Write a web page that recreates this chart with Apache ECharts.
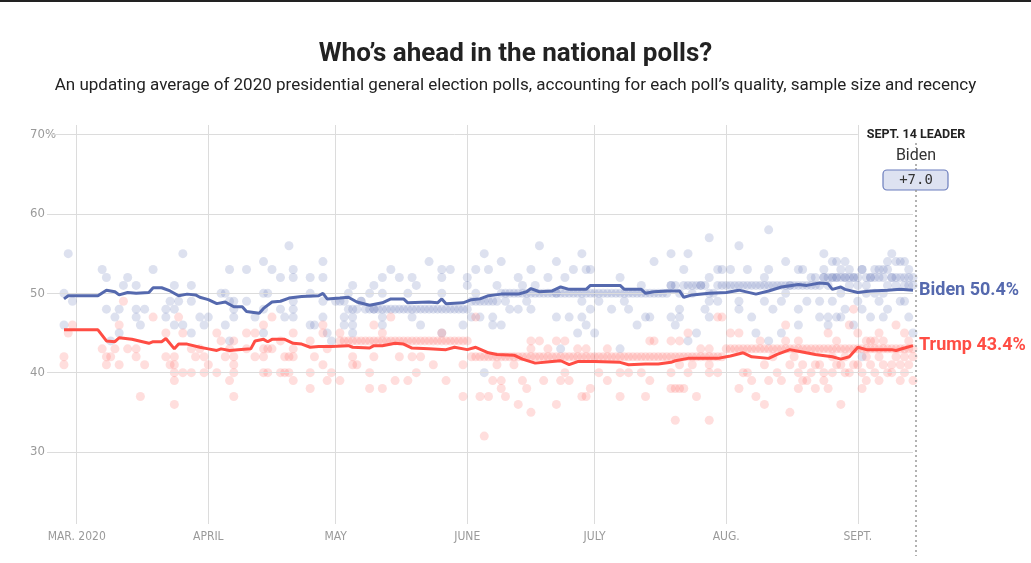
<!DOCTYPE html>
<html>
<head>
<meta charset="utf-8">
<title>Who's ahead in the national polls?</title>
<script src="https://cdn.jsdelivr.net/npm/echarts@6/dist/echarts.min.js"></script>
<style>
  html, body { margin: 0; padding: 0; background: #fff; }
  #main { width: 1031px; height: 563px; }
</style>
</head>
<body>
<div id="main"></div>
<script>
// all x values are days after 1 March 2020
const firstDay = -7;   // Feb 23
const lastDay = 197;   // Sept 14

const monthLabels = {
  '2020-03-01': 'MAR. 2020',
  '2020-04-01': 'APRIL',
  '2020-05-01': 'MAY',
  '2020-06-01': 'JUNE',
  '2020-07-01': 'JULY',
  '2020-08-01': 'AUG.',
  '2020-09-01': 'SEPT.'
};

const yTicks = [30, 40, 50, 60, 70];

// polling averages [day, %]
const bidenAvg = [
  [-3, 49.3], [-2, 49.7], [5, 49.7], [7, 50.4], [9, 50.2], [10, 49.8], [12, 50.1], [14, 50.0],
  [17, 50.1], [18, 50.7], [20, 50.7], [22, 50.3], [24, 49.7], [26, 49.9], [28, 49.8], [29, 49.5],
  [31, 49.2], [33, 48.7], [35, 48.9], [37, 48.3], [39, 48.3], [40, 47.7], [43, 47.5], [44, 48.1],
  [46, 48.9], [48, 49.0], [50, 49.4], [53, 49.6], [57, 49.7], [58, 50.0], [59, 49.3], [62, 49.4],
  [64, 49.5], [66, 48.9], [69, 48.5], [72, 48.8], [74, 49.3], [77, 49.3], [78, 48.8], [83, 48.9],
  [85, 48.8], [86, 49.3], [87, 48.7], [91, 48.8], [93, 49.2], [95, 49.3], [97, 49.7], [100, 49.9],
  [104, 49.9], [106, 50.2], [107, 50.6], [109, 50.2], [112, 50.3], [114, 50.8], [116, 50.5], [120, 50.5],
  [121, 51.0], [125, 51.0], [128, 51.0], [129, 50.5], [133, 50.5], [134, 50.0], [136, 50.2], [139, 50.3],
  [141, 50.3], [142, 50.3], [143, 49.5], [145, 49.8], [149, 50.0], [153, 50.1], [156, 50.4], [160, 49.9],
  [163, 50.3], [166, 50.8], [170, 51.1], [172, 51.0], [175, 51.3], [177, 51.2], [178, 50.5], [180, 50.8],
  [181, 50.5], [184, 50.1], [187, 50.3], [191, 50.4], [194, 50.5], [197, 50.4]
];

const trumpAvg = [
  [-3, 45.4], [5, 45.4], [7, 44.0], [9, 43.9], [10, 44.4], [13, 44.2], [17, 43.7], [18, 43.9],
  [20, 43.9], [21, 44.3], [23, 43.0], [24, 43.6], [26, 43.6], [29, 43.2], [31, 43.0], [33, 42.8],
  [34, 43.0], [36, 42.8], [38, 42.9], [41, 43.0], [42, 44.0], [44, 44.2], [45, 43.9], [46, 44.2],
  [49, 44.2], [51, 43.7], [53, 43.6], [55, 43.2], [57, 43.3], [60, 43.3], [64, 43.4], [65, 43.2],
  [69, 43.1], [70, 43.4], [72, 43.4], [75, 43.7], [77, 43.6], [79, 43.1], [83, 43.0], [87, 42.9],
  [89, 43.2], [92, 42.9], [94, 43.2], [97, 42.5], [99, 42.3], [103, 42.2], [105, 41.7], [108, 41.2],
  [112, 41.4], [114, 41.5], [116, 41.0], [118, 41.4], [122, 41.4], [128, 41.3], [130, 41.0], [134, 41.1],
  [137, 41.1], [140, 41.3], [141, 41.5], [144, 41.8], [151, 41.8], [154, 42.1], [157, 42.5], [159, 42.0],
  [163, 41.8], [165, 42.3], [168, 42.9], [170, 42.7], [174, 42.3], [178, 42.0], [180, 41.7], [182, 42.0],
  [184, 43.2], [186, 42.9], [192, 42.9], [193, 42.8], [195, 43.1], [197, 43.4]
];

// individual polls [day, %]
const bidenPolls = [
  [-3, 50], [-3, 46], [-2, 55], [-1, 49], [6, 53], [7, 52], [7, 48], [8, 44], [9, 47], [10, 48], [10, 45],
  [11, 51], [12, 52], [14, 51], [14, 48], [14, 47], [15, 46], [16, 48], [18, 53], [21, 48], [21, 47], [22, 49],
  [23, 51], [23, 48], [23, 46], [24, 49], [25, 55], [25, 46], [27, 51], [27, 49], [27, 45], [29, 47], [30, 46],
  [31, 47], [34, 50], [35, 50], [35, 46], [36, 53], [36, 49], [36, 44], [37, 49], [37, 48], [37, 47], [40, 53],
  [40, 49], [42, 47], [44, 54], [44, 50], [44, 48], [44, 45], [45, 50], [46, 53], [48, 52], [48, 48], [49, 47],
  [50, 56], [51, 53], [51, 52], [51, 49], [51, 48], [51, 47], [55, 52], [55, 50], [55, 46], [56, 46], [58, 54],
  [58, 52], [58, 49], [58, 47], [59, 45], [60, 44], [61, 49], [63, 47], [63, 46], [64, 50], [65, 51], [65, 47],
  [65, 46], [65, 45], [67, 49], [69, 50], [70, 51], [70, 48], [72, 52], [72, 50], [72, 47], [72, 46], [74, 53],
  [76, 52], [78, 50], [79, 52], [79, 47], [80, 51], [81, 46], [83, 54], [86, 53], [86, 52], [86, 50], [86, 45],
  [88, 53], [91, 46], [92, 52], [92, 51], [93, 47], [94, 53], [94, 50], [95, 47], [96, 55], [96, 40], [97, 53],
  [98, 47], [98, 46], [99, 51], [100, 54], [100, 46], [101, 49], [102, 48], [104, 52], [104, 48], [105, 51],
  [106, 49], [107, 53], [107, 48], [108, 51], [109, 56], [111, 52], [113, 54], [113, 50], [113, 47], [114, 43],
  [115, 52], [116, 47], [117, 53], [118, 45], [119, 55], [119, 49], [119, 47], [120, 53], [120, 46], [121, 53],
  [121, 48], [122, 45], [123, 49], [126, 48], [128, 52], [128, 43], [129, 49], [130, 48], [132, 46], [133, 51],
  [134, 47], [135, 47], [136, 54], [140, 55], [144, 55], [143, 53], [140, 51], [145, 51], [147, 51], [149, 52],
  [149, 57], [151, 53], [149, 49], [151, 49], [142, 48], [140, 47], [142, 47], [141, 46], [144, 44], [146, 45],
  [148, 48], [149, 47], [152, 53], [154, 53], [156, 56], [156, 49], [156, 48], [158, 53], [159, 47], [160, 45],
  [162, 52], [162, 49], [163, 58], [163, 53], [163, 44], [164, 48], [166, 45], [166, 49], [167, 54], [167, 50],
  [168, 51], [170, 53], [170, 48], [170, 46], [172, 49], [173, 52], [175, 49], [175, 47], [176, 55], [176, 53],
  [177, 47], [177, 46], [178, 49], [179, 54], [179, 47], [180, 50], [180, 47], [181, 54], [181, 48], [182, 53],
  [183, 46], [183, 52], [184, 49], [185, 53], [185, 42], [187, 52], [189, 49], [190, 53], [190, 47], [191, 54],
  [191, 48], [192, 55], [193, 54], [194, 49], [194, 54], [195, 54], [196, 47], [197, 45], [197, 51], [186, 51],
  [188, 52], [189, 53], [192, 52], [193, 51], [195, 52], [196, 51], [186, 50], [188, 50], [191, 51], [195, 49],
  [184, 51], [185, 48], [187, 47], [190, 50], [196, 53], [174, 52], [176, 52], [177, 51], [178, 52], [179, 52],
  [180, 53], [181, 52], [182, 51], [171, 53], [178, 54]
];

const trumpPolls = [
  [-3, 42], [-3, 41], [-2, 45], [-1, 46], [6, 43], [7, 42], [7, 41], [8, 42], [9, 43], [10, 46], [10, 41],
  [11, 49], [12, 43], [14, 43], [14, 42], [15, 37], [16, 41], [18, 47], [21, 45], [21, 42], [22, 41], [23, 42],
  [23, 41], [23, 40], [23, 39], [23, 36], [24, 47], [25, 45], [25, 40], [27, 43], [27, 40], [28, 42], [29, 43],
  [30, 42], [30, 40], [31, 41], [33, 45], [33, 40], [34, 44], [35, 42], [36, 43], [36, 39], [37, 44], [37, 42],
  [37, 41], [37, 40], [37, 37], [40, 45], [40, 43], [42, 45], [42, 42], [44, 46], [44, 43], [44, 42], [44, 40],
  [45, 43], [45, 40], [46, 47], [46, 43], [48, 44], [48, 40], [49, 42], [49, 40], [50, 42], [50, 40], [51, 45],
  [51, 43], [51, 42], [51, 39], [55, 44], [55, 40], [55, 38], [56, 42], [58, 46], [58, 45], [58, 41], [59, 43],
  [59, 39], [60, 40], [62, 45], [62, 39], [65, 42], [65, 41], [66, 41], [69, 40], [69, 38], [70, 46], [70, 42],
  [72, 45], [72, 38], [74, 47], [75, 39], [76, 42], [78, 39], [79, 42], [80, 40], [81, 42], [84, 41], [86, 45],
  [87, 39], [91, 41], [91, 37], [94, 47], [95, 37], [96, 32], [97, 37], [98, 39], [99, 41], [100, 39], [100, 38],
  [101, 37], [103, 41], [104, 36], [105, 39], [106, 38], [107, 44], [107, 43], [107, 35], [109, 44], [110, 39],
  [111, 43], [113, 44], [113, 36], [114, 39], [115, 44], [115, 40], [116, 39], [118, 43], [119, 37], [120, 43],
  [120, 37], [121, 38], [123, 40], [125, 43], [125, 39], [128, 40], [128, 37], [130, 40], [133, 40], [134, 37],
  [135, 44], [135, 39], [136, 44], [141, 34], [149, 34], [146, 37], [140, 40], [144, 40], [149, 40], [151, 40],
  [140, 38], [141, 38], [142, 38], [143, 38], [142, 41], [145, 41], [149, 41], [140, 44], [142, 44], [144, 45],
  [151, 47], [147, 43], [149, 43], [152, 47], [154, 45], [156, 45], [156, 38], [157, 40], [158, 40], [159, 39],
  [160, 37], [161, 44], [162, 36], [162, 41], [163, 39], [164, 42], [166, 39], [167, 46], [167, 44], [168, 35],
  [168, 41], [170, 44], [170, 40], [170, 38], [172, 39], [174, 41], [176, 40], [177, 45], [177, 38], [179, 44],
  [180, 36], [181, 40], [182, 46], [183, 48], [184, 45], [185, 38], [188, 44], [190, 44], [191, 40], [193, 46],
  [194, 39], [197, 39], [197, 42], [184, 41], [185, 40], [186, 42], [186, 39], [187, 41], [188, 40], [189, 42],
  [189, 39], [190, 41], [192, 41], [192, 40], [193, 42], [194, 41], [195, 40], [195, 42], [196, 41], [196, 44],
  [187, 44], [178, 40], [178, 42], [179, 41], [180, 41], [181, 42], [182, 40], [183, 41], [175, 41], [173, 40],
  [171, 41], [169, 42], [165, 40], [171, 39], [176, 39], [174, 38], [186, 44], [189, 45], [195, 45]
];

// daily tracking polls: one value per day from trackerStart
const trackerStart = 62;
const bidenTracker = [
  49, 49, 48, 48, 48, 49, 48,
  48, 48, 48, 48, 48, 48, 48, 48, 48, 48, 48, 48, 48, 48, 48, 48, 48, 48, 48, 48, 48, 48, 48, 48,
  49, 49, 49, 49, 49, 49, 49,
  50, 50, 50, 50, 50, 50, 50, 50, 50, 50, 50, 50, 50, 50, 50, 50, 50, 50, 50, 50,
  50, 50, 50, 50, 50, 50, 50, 50, 50, 50, 50, 50, 50, 50, 50, 50, 50, 50, 50, 50,
  51, 51, 50, 51, 51, 50, 51, 51, 51, 50, 50, 51, 51,
  51, 51, 51, 51, 51, 51, 51, 51, 51, 51, 51, 51, 51, 51, 51, 51, 51, 51, 51, 51, 51, 51, 51,
  52, 52, 52, 52, 52, 52, 52, 52,
  52, 53, 52, 52, 53, 52, 52, 53, 52, 52, 52, 51, 52, 52
];
const trumpTracker = [
  44, 44, 44, 44, 44, 44, 44, 44, 44, 44, 44, 44, 44, 44, 44, 44,
  44, 44, 44, 44, 44, 44, 44, 44, 44, 44, 44, 44, 44, 44, 44,
  42, 42, 42, 42, 42, 42, 42, 42, 42, 42, 42, 42, 42, 42, 42, 42, 42, 42, 42, 42,
  42, 42, 42, 42, 42, 42, 42, 42, 42, 42, 42, 42, 42, 42, 42, 42, 42, 42, 42, 42,
  42, 42, 42, 42, 42, 42, 42, 42, 42, 42, 42, 42, 42, 42, 42, 42, 42, 42, 42, 42,
  43, 43, 43, 43, 43, 43, 43, 43, 43, 43, 43, 43, 43, 43, 43,
  43, 43, 43, 43, 43, 43, 43, 43, 43, 43, 43, 43, 43, 43, 43,
  43, 43, 43, 43, 43, 43, 43, 43, 43, 43, 43, 43, 43, 43, 43
];

const BLUE = '#5569ae';
const RED = '#ff4d44';
const AXIS_FONT = "'DejaVu Sans Condensed', 'Liberation Sans Narrow', sans-serif";

const categories = [];
for (let d = firstDay; d <= lastDay; d++) {
  categories.push(new Date(Date.UTC(2020, 2, 1 + d)).toISOString().slice(0, 10));
}
const toPoint = p => [p[0] - firstDay, p[1]];
const trackerPoints = vals => vals.map((v, i) => [trackerStart + i - firstDay, v]);
const sept1 = categories.indexOf('2020-09-01');

const bidenLast = bidenAvg[bidenAvg.length - 1][1];
const trumpLast = trumpAvg[trumpAvg.length - 1][1];
const lead = (bidenLast - trumpLast).toFixed(1);

const myChart = echarts.init(document.getElementById('main'));

const isMonthStart = (idx) => monthLabels[categories[idx]] !== undefined;

myChart.setOption({
  animation: false,
  title: {
    text: 'Who\u2019s ahead in the national polls?',
    subtext: 'An updating average of 2020 presidential general election polls, accounting for each poll\u2019s quality, sample size and recency',
    left: 'center',
    top: 36,
    itemGap: 10,
    textStyle: { fontFamily: 'Roboto', fontWeight: 'bold', fontSize: 26, color: '#222' },
    subtextStyle: { fontFamily: 'Roboto', fontSize: 17, color: '#222' }
  },
  grid: { left: 47, right: 118, top: 125, bottom: 39 },
  xAxis: {
    type: 'category',
    data: categories,
    boundaryGap: false,
    axisLine: { show: false },
    axisTick: { show: false },
    splitLine: {
      show: true,
      interval: isMonthStart,
      lineStyle: { color: '#dcdcdc', width: 1 }
    },
    axisLabel: {
      interval: isMonthStart,
      formatter: v => monthLabels[v] || '',
      margin: 7,
      color: '#9a9a9a',
      fontFamily: AXIS_FONT,
      fontSize: 12
    }
  },
  yAxis: {
    type: 'value',
    min: 20.92,
    max: 71.22,
    splitNumber: 5,
    axisLine: { show: false },
    axisTick: { show: false },
    splitLine: { show: false },
    axisLabel: {
      align: 'left',
      margin: 17,
      color: '#9a9a9a',
      fontFamily: AXIS_FONT,
      fontSize: 13,
      formatter: v => (yTicks.indexOf(v) >= 0 ? (v === 70 ? '70%' : String(v)) : '')
    }
  },
  series: [
    {
      name: 'Biden polls',
      type: 'scatter',
      symbolSize: 9,
      silent: true,
      z: 1,
      itemStyle: { color: 'rgba(85,105,174,0.25)' },
      data: bidenPolls.map(toPoint).concat(trackerPoints(bidenTracker)),
      markLine: {
        silent: true,
        symbol: 'none',
        label: { show: false },
        lineStyle: { color: '#dcdcdc', width: 1, type: 'solid' },
        data: yTicks.map(t => [
          { coord: [t === 70 ? 1.4 : 0, t] },
          { coord: [t === 70 ? sept1 : categories.length - 1, t] }
        ])
      }
    },
    {
      name: 'Trump polls',
      type: 'scatter',
      symbolSize: 9,
      silent: true,
      z: 1,
      itemStyle: { color: 'rgba(255,77,68,0.23)' },
      data: trumpPolls.map(toPoint).concat(trackerPoints(trumpTracker))
    },
    {
      name: 'Biden',
      type: 'line',
      showSymbol: false,
      silent: true,
      z: 5,
      lineStyle: { color: BLUE, width: 3 },
      itemStyle: { color: BLUE },
      data: bidenAvg.map(toPoint),
      endLabel: {
        show: true,
        distance: 6,
        formatter: () => 'Biden ' + bidenLast.toFixed(1) + '%',
        color: BLUE,
        fontFamily: 'Roboto',
        fontWeight: 'bold',
        fontSize: 18
      }
    },
    {
      name: 'Trump',
      type: 'line',
      showSymbol: false,
      silent: true,
      z: 5,
      lineStyle: { color: RED, width: 3 },
      itemStyle: { color: RED },
      data: trumpAvg.map(toPoint),
      endLabel: {
        show: true,
        distance: 6,
        formatter: () => 'Trump ' + trumpLast.toFixed(1) + '%',
        color: RED,
        fontFamily: 'Roboto',
        fontWeight: 'bold',
        fontSize: 18
      }
    }
  ],
  graphic: [
    { type: 'rect', shape: { x: 0, y: 0, width: 1031, height: 2 }, style: { fill: '#222' } },
    // leader marker
    { type: 'line', shape: { x1: 916, y1: 143, x2: 916, y2: 148 }, style: { stroke: '#999', lineWidth: 1.5, lineDash: [2, 2] } },
    { type: 'line', shape: { x1: 916, y1: 164, x2: 916, y2: 170 }, style: { stroke: '#999', lineWidth: 1.5, lineDash: [2, 2] } },
    { type: 'line', shape: { x1: 916, y1: 190, x2: 916, y2: 556 }, style: { stroke: '#999', lineWidth: 1.5, lineDash: [2, 3] }, z: 10 },
    {
      type: 'text', x: 916, y: 135,
      style: { text: 'SEPT. 14 LEADER', textAlign: 'center', textVerticalAlign: 'middle', fill: '#222', font: 'bold 12.5px Roboto' }
    },
    {
      type: 'text', x: 916, y: 156,
      style: { text: 'Biden', textAlign: 'center', textVerticalAlign: 'middle', fill: '#333', font: '16px Roboto' }
    },
    {
      type: 'rect', shape: { x: 883, y: 170, width: 65, height: 20, r: 4 },
      style: { fill: '#dde2f1', stroke: '#6b7dbd', lineWidth: 1.2 }
    },
    {
      type: 'text', x: 916, y: 180,
      style: { text: '+' + lead, textAlign: 'center', textVerticalAlign: 'middle', fill: '#333', font: '14px "DejaVu Sans Mono"' }
    }
  ]
});
</script>
</body>
</html>
